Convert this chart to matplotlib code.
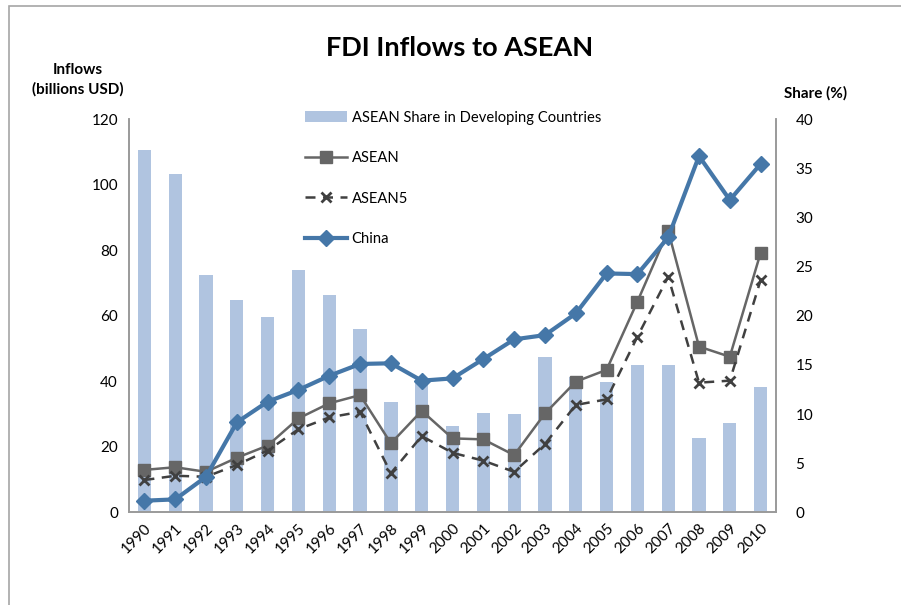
import matplotlib.pyplot as plt
from matplotlib.patches import Rectangle

years = [str(y) for y in range(1990, 2011)]

# ASEAN share in developing countries (%), right axis
share = [36.8, 34.4, 24.1, 21.6, 19.9, 24.7, 22.1, 18.7, 11.2, 13.6, 8.8,
         10.1, 10.0, 15.8, 13.8, 13.3, 15.0, 15.0, 7.6, 9.1, 12.8]

# inflows, billions USD, left axis
asean = [13.0, 13.8, 12.4, 16.7, 20.4, 28.7, 33.3, 35.8, 21.1, 31.0, 22.6,
         22.3, 17.5, 30.2, 39.9, 43.5, 64.3, 85.9, 50.6, 47.5, 79.2]
asean5 = [9.9, 11.2, 10.9, 14.5, 18.9, 25.4, 29.0, 30.7, 12.0, 23.3, 18.2,
          15.8, 12.4, 20.9, 32.8, 34.5, 53.6, 71.9, 39.6, 40.2, 70.9]
china = [3.6, 4.0, 10.9, 27.5, 33.8, 37.4, 41.7, 45.3, 45.5, 40.2, 40.9,
         46.8, 52.8, 54.1, 60.7, 72.9, 72.7, 83.9, 108.7, 95.3, 106.3]

plt.rcParams['font.family'] = ['Lato', 'DejaVu Sans']

fig = plt.figure(figsize=(9.01, 6.05), dpi=100)
fig.patches.append(Rectangle((9 / 901, -0.1), 1.2, 1 - 6 / 605 + 0.1,
                             transform=fig.transFigure, fill=False,
                             edgecolor='#a6a6a6', linewidth=1.2))

ax = fig.add_axes([0.1432, 0.1529, 0.7181, 0.6504])
ax2 = ax.twinx()
ax.set_zorder(ax2.get_zorder() + 1)
ax.patch.set_visible(False)

x = list(range(len(years)))
bars = ax2.bar(x, share, width=0.43, color='#b0c4e0',
               label='ASEAN Share in Developing Countries')

l1, = ax.plot(x, asean, color='#666666', linewidth=1.8, marker='s',
              markersize=8, label='ASEAN')
l2, = ax.plot(x, asean5, color='#404040', linewidth=1.8, linestyle=(0, (4, 3)),
              marker='x', markersize=7, markeredgewidth=2, label='ASEAN5')
l3, = ax.plot(x, china, color='#4577a8', linewidth=3, marker='D',
              markersize=8, label='China')

ax.set_xlim(-0.5, len(years) - 0.5)
ax.set_ylim(0, 120)
ax2.set_ylim(0, 40)
ax.set_yticks(range(0, 121, 20))
ax2.set_yticks(range(0, 41, 5))
ax.set_xticks(x)
ax.set_xticklabels(years, rotation=45, ha='right', rotation_mode='anchor')

for a in (ax, ax2):
    a.tick_params(length=0, labelsize=11, pad=8)
    a.spines['top'].set_visible(False)
    for s in ('left', 'right', 'bottom'):
        a.spines[s].set_color('#9a9a9a')
        a.spines[s].set_linewidth(1.2)
ax.tick_params(axis='x', pad=6)
ax2.tick_params(axis='y', pad=14)

fig.text(0.51, 0.92, 'FDI Inflows to ASEAN', fontsize=19.5, fontweight='bold',
         ha='center', va='center')
fig.text(0.086, 0.868, 'Inflows\n(billions USD)', fontsize=11, fontweight='bold',
         ha='center', va='center', linespacing=1.5)
fig.text(0.905, 0.846, 'Share (%)', fontsize=11, fontweight='bold',
         ha='center', va='center')

ax.legend([bars, l1, l2, l3],
          ['ASEAN Share in Developing Countries', 'ASEAN', 'ASEAN5', 'China'],
          loc='upper left', bbox_to_anchor=(0.252, 1.055), frameon=False,
          fontsize=10.6, labelspacing=1.8, handlelength=2.85, handletextpad=0.3)

fig.savefig('out.png', dpi=100)
